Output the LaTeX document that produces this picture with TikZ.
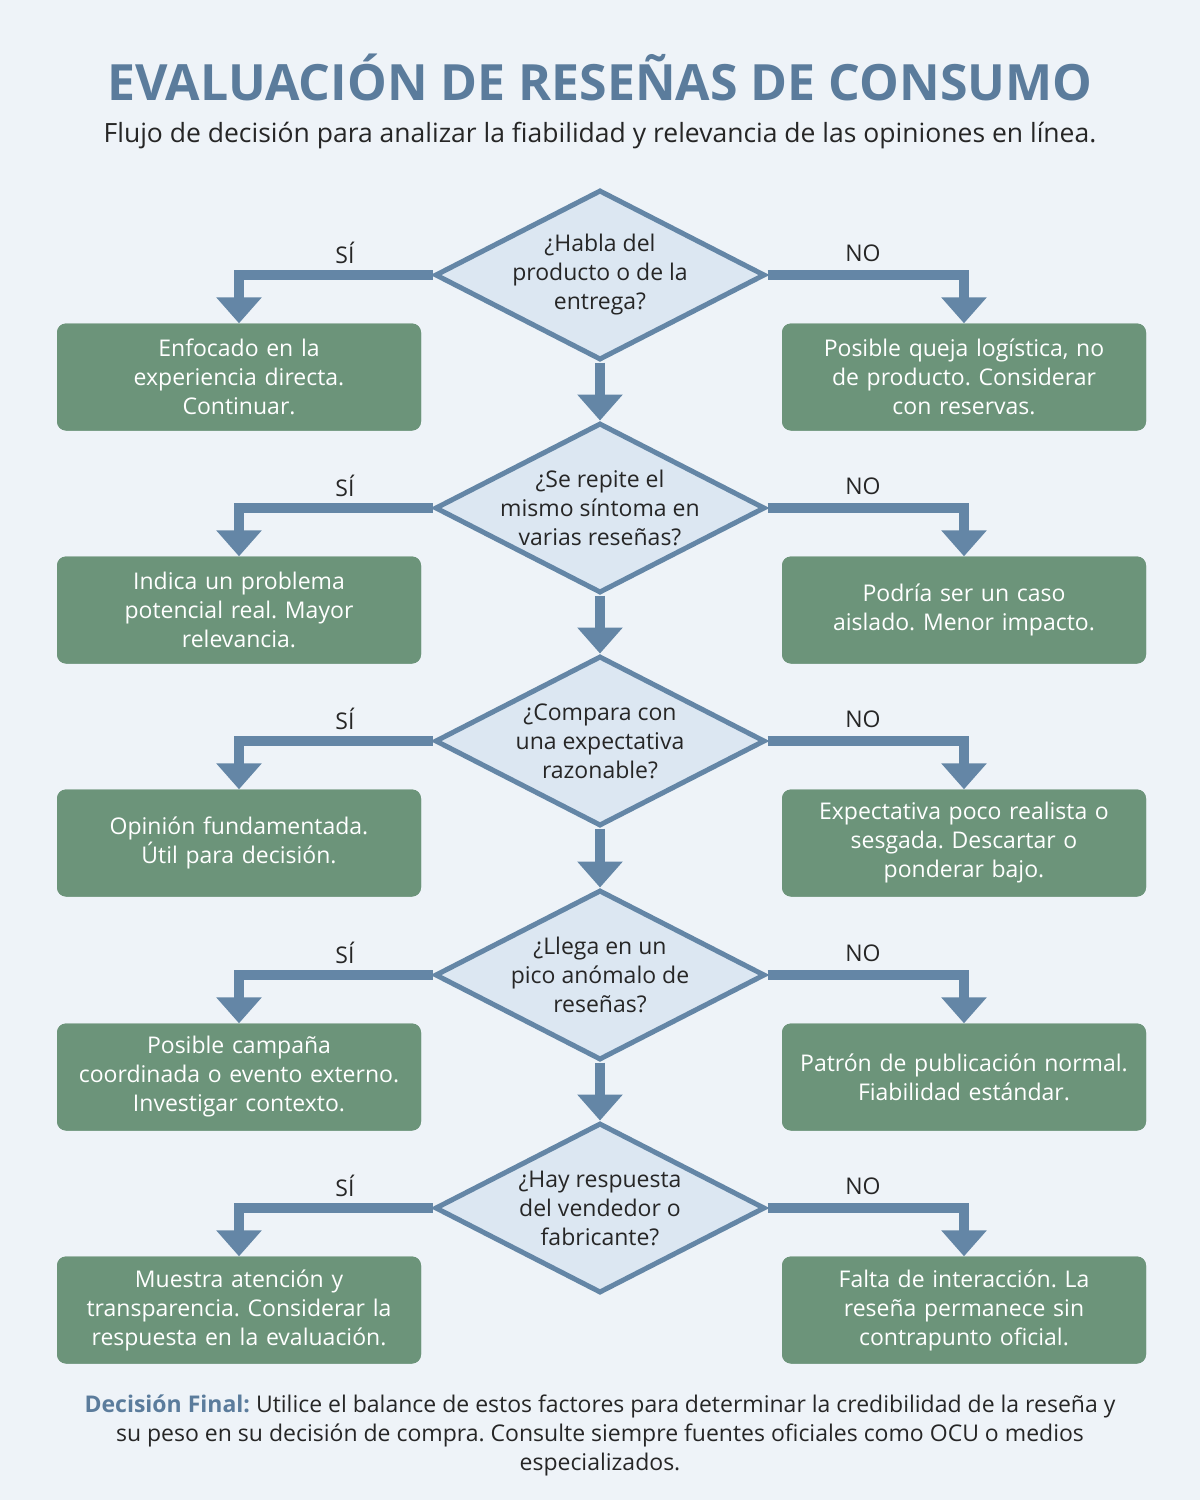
\documentclass[tikz,border=0pt]{standalone}
\usepackage{fontspec}
\setmainfont{Open Sans}
\frenchspacing
\usetikzlibrary{shapes.geometric,arrows.meta}
\definecolor{bg}{HTML}{EEF3F8}
\definecolor{steel}{HTML}{5B7C9C}
\definecolor{arrc}{HTML}{6486A6}
\definecolor{dfill}{HTML}{DCE7F2}
\definecolor{green}{HTML}{6C947A}
\begin{document}
\begin{tikzpicture}[x=1pt,y=-1pt,
 dia/.style={diamond,draw=arrc,line width=5pt,fill=dfill,minimum width=330pt,minimum height=170pt,inner sep=0pt},
 dtext/.style={align=center,font=\fontsize{23}{29}\selectfont,text=black!85},
 box/.style={rectangle,rounded corners=9pt,fill=green,minimum width=364pt,minimum height=107pt,text width=350pt,align=center,text=white,font=\fontsize{23}{29}\selectfont},
 arr/.style={draw=arrc,line width=10pt,-{Triangle[width=44pt,length=26pt]}},
 lab/.style={font=\fontsize{23}{28}\selectfont,text=black!85}]
\fill[bg] (0,0) rectangle (1200,1500);
\useasboundingbox (0,0) rectangle (1200,1500);
\node[text=steel,font=\fontsize{50}{60}\selectfont\bfseries] (title) at (600,77) {EVALUACIÓN DE RESEÑAS DE CONSUMO};
\node[font=\fontsize{26.5}{30}\selectfont,text=black!85] (sub) at (600,136) {Flujo de decisión para analizar la fiabilidad y relevancia de las opiniones en línea.};
\foreach \i/\y in {1/275,2/508,3/741,4/975,5/1208}{
 \node[dia] (d\i) at (600,\y) {};
 \node[box] (l\i) at (239,\y+102) {};
 \node[box] (r\i) at (964,\y+102) {};
 \draw[arr] (d\i.west) -| (l\i.north);
 \draw[arr] (d\i.east) -| (r\i.north);
 \node[lab] (s\i) at (345,\y-22) {SÍ};
 \node[lab] (n\i) at (863,\y-22) {NO};
}
\foreach \a/\b in {1/2,2/3,3/4,4/5}{\draw[arr] (d\a.south) -- (d\b.north);}
\node[dtext] at (d1) {¿Habla del\\producto o de la\\entrega?};
\node[dtext] at (d2) {¿Se repite el\\mismo síntoma en\\varias reseñas?};
\node[dtext] at (d3) {¿Compara con\\una expectativa\\razonable?};
\node[dtext] at (d4) {¿Llega en un\\pico anómalo de\\reseñas?};
\node[dtext] at (d5) {¿Hay respuesta\\del vendedor o\\fabricante?};
\node[box] at (l1) {Enfocado en la\\experiencia directa.\\Continuar.};
\node[box] at (r1) {Posible queja logística, no\\de producto. Considerar\\con reservas.};
\node[box] at (l2) {Indica un problema\\potencial real. Mayor\\relevancia.};
\node[box] at (r2) {Podría ser un caso\\aislado. Menor impacto.};
\node[box] at (l3) {Opinión fundamentada.\\Útil para decisión.};
\node[box] at (r3) {Expectativa poco realista o\\sesgada. Descartar o\\ponderar bajo.};
\node[box] at (l4) {Posible campaña\\coordinada o evento externo.\\Investigar contexto.};
\node[box] at (r4) {Patrón de publicación normal.\\Fiabilidad estándar.};
\node[box] at (l5) {Muestra atención y\\transparencia. Considerar la\\respuesta en la evaluación.};
\node[box] at (r5) {Falta de interacción. La\\reseña permanece sin\\contrapunto oficial.};
\node[align=center,font=\fontsize{23}{29}\selectfont,text=black!85] (foot) at (600,1435) {{\color{steel}\bfseries Decisión Final:} Utilice el balance de estos factores para determinar la credibilidad de la reseña y\\su peso en su decisión de compra. Consulte siempre fuentes oficiales como OCU o medios\\especializados.};
\end{tikzpicture}
\end{document}
